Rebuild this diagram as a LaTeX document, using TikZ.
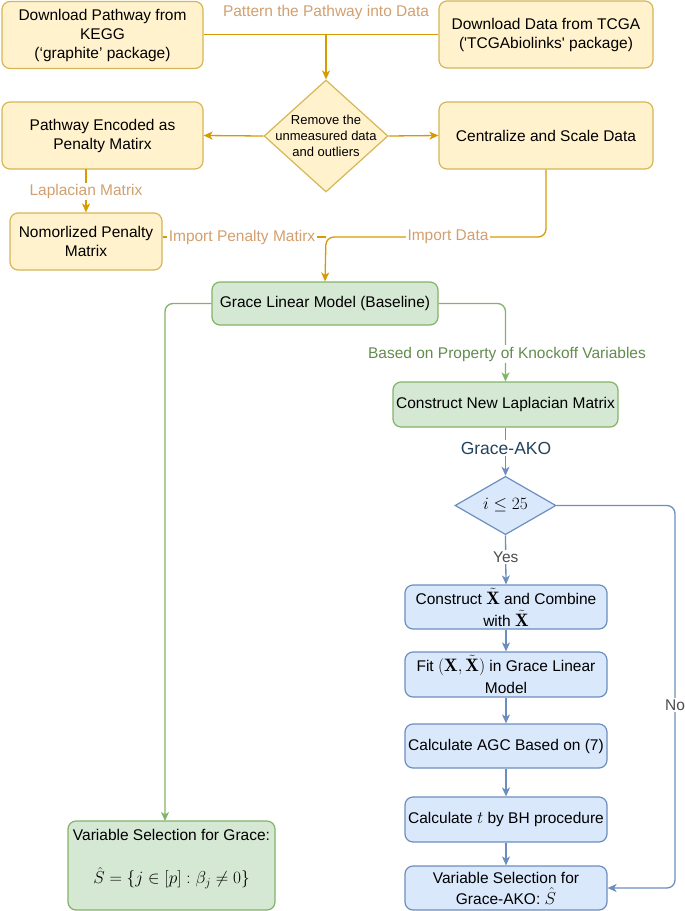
\documentclass[tikz,border=0pt]{standalone}
\usepackage{fontspec}
\newfontfamily\lib{Liberation Sans}
\usetikzlibrary{shapes.geometric,arrows.meta}
\definecolor{yfill}{HTML}{FFF2CC}
\definecolor{ystroke}{HTML}{D6B656}
\definecolor{oline}{HTML}{D79B00}
\definecolor{olabel}{RGB}{210,160,112}
\definecolor{gfill}{HTML}{D5E8D4}
\definecolor{gstroke}{HTML}{82B366}
\definecolor{glabel}{RGB}{98,140,78}
\definecolor{bfill}{HTML}{DAE8FC}
\definecolor{bstroke}{HTML}{6C8EBF}
\definecolor{blabel}{HTML}{23445D}
\newcommand{\mth}[1]{{\fontsize{18}{19}\selectfont$#1$}}
\tikzset{
  box/.style={rectangle, rounded corners=8pt, line width=1.2pt, align=center, inner sep=1pt,
    font=\lib\fontsize{15.5}{19}\selectfont},
  ybox/.style={box, draw=ystroke, fill=yfill},
  gbox/.style={box, draw=gstroke, fill=gfill},
  bbox/.style={box, draw=bstroke, fill=bfill},
  tip/.style={-{Stealth[length=9pt,width=8pt,inset=2.5pt]}},
  oline/.style={draw=oline, line width=1.3pt},
  gline/.style={draw=gstroke, line width=1.3pt},
  bline/.style={draw=bstroke, line width=1.3pt},
  lbl/.style={font=\lib\fontsize{15.5}{19}\selectfont, fill=white, inner sep=1.5pt},
}
\begin{document}
\begin{tikzpicture}[x=1pt,y=-1pt]
\useasboundingbox (0,0) rectangle (685,911);
% top row
\node[ybox, minimum width=201, minimum height=67] (b1) at (102.5,35) {Download Pathway from\\KEGG\\(‘graphite’ package)};
\node[ybox, minimum width=214, minimum height=67] (b2) at (546,34.5) {Download Data from TCGA\\('TCGAbiolinks' package)};
\coordinate (j) at (326,34.5);
\node[diamond, draw=ystroke, fill=yfill, line width=1.2pt, minimum width=124, minimum height=112, inner sep=0pt,
  label={[font=\lib\fontsize{13}{16}\selectfont, align=center]center:Remove the\\unmeasured data\\and outliers}] (d1) at (326,136) {};
\node[ybox, minimum width=201, minimum height=67] (b3) at (102.5,135.5) {Pathway Encoded as\\Penalty Matirx};
\node[ybox, minimum width=214, minimum height=67] (b4) at (546,135.5) {Centralize and Scale Data};
\node[ybox, minimum width=152, minimum height=57] (b5) at (86,241.5) {Nomorlized Penalty\\Matrix};
\coordinate (lt) at (86,169);
\coordinate (ic) at (326,237);
% green
\node[gbox, minimum width=226, minimum height=43] (grace) at (325,303.5) {Grace Linear Model (Baseline)};
\node[gbox, minimum width=225, minimum height=45] (cnl) at (505.5,404.5) {Construct New Laplacian Matrix};
\node[gbox, minimum width=207, minimum height=89] (gsel) at (171.5,865.5) {Variable Selection for Grace:\\[24pt]{\fontsize{18.5}{20}\selectfont$\hat{S}=\{j\in[p]:\beta_j\neq 0\}$}\\[-1pt]\mbox{}};
\coordinate (gl) at (165,821);
% blue
\node[diamond, draw=bstroke, fill=bfill, line width=1.2pt, minimum width=101, minimum height=55, inner sep=0pt,
  font=\fontsize{18.5}{20}\selectfont] (d2) at (505.5,505.5) {$i\le 25$};
\node[bbox, minimum width=202, minimum height=44] (b6) at (506,607) {Construct \mth{\tilde{\mathbf{X}}} and Combine\\[3pt]with \mth{\tilde{\mathbf{X}}}};
\node[bbox, minimum width=202, minimum height=45] (b7) at (506,674.5) {Fit \mth{(\mathbf{X},\tilde{\mathbf{X}})} in Grace Linear\\[3pt]Model};
\node[bbox, minimum width=202, minimum height=44] (b8) at (506,746) {Calculate AGC Based on (7)};
\node[bbox, minimum width=202, minimum height=45] (b9) at (506,819.5) {Calculate \mth{t} by BH procedure};
\node[bbox, minimum width=202, minimum height=44] (b10) at (506,888) {Variable Selection for\\[2pt]Grace-AKO: \mth{\hat{S}}};
\coordinate (nc) at (675,888);
% orange connectors
\draw[oline] (b1.east |- j) -- (b2.west);
\draw[oline, tip] (j) -- (d1.north);
\node[lbl, text=olabel] (l1) at (326,12) {Pattern the Pathway into Data};
\draw[oline, tip] (d1.west) -- (b3.east);
\draw[oline, tip] (d1.east) -- (b4.west);
\draw[oline, tip] (lt) -- node[lbl, text=olabel, pos=0.52] {Laplacian Matrix} (b5.north);
\draw[oline] (b5.east |- ic) -- (ic);
\draw[oline, tip, rounded corners=8pt] (b4.south) |- (ic) -- (grace.north);
\node[lbl, text=olabel] (l2) at (242,237) {Import Penalty Matirx};
\node[lbl, text=olabel] (l3) at (448,237) {Import Data};
% green connectors
\draw[gline, tip, rounded corners=8pt] (grace.east) -| (cnl.north);
\node[lbl, text=glabel] (l4) at (507,354) {Based on Property of Knockoff Variables};
\draw[gline, tip, rounded corners=8pt] (grace.west) -| (gl);
% blue connectors
\draw[bline, tip] (cnl.south) -- (d2.north);
\node[lbl, text=blabel, font=\lib\fontsize{17.5}{20}\selectfont] (l5) at (506,448) {Grace-AKO};
\draw[bline, tip] (d2.south) -- node[lbl, text=black!70, pos=0.45] {Yes} (b6.north);
\draw[bline, tip] (b6.south) -- (b7.north);
\draw[bline, tip] (b7.south) -- (b8.north);
\draw[bline, tip] (b8.south) -- (b9.north);
\draw[bline, tip] (b9.south) -- (b10.north);
\draw[bline, tip, rounded corners=8pt] (d2.east) -| (nc) -- (b10.east);
\node[lbl, text=black!70] (l6) at (675,705) {No};
\end{tikzpicture}
\end{document}
